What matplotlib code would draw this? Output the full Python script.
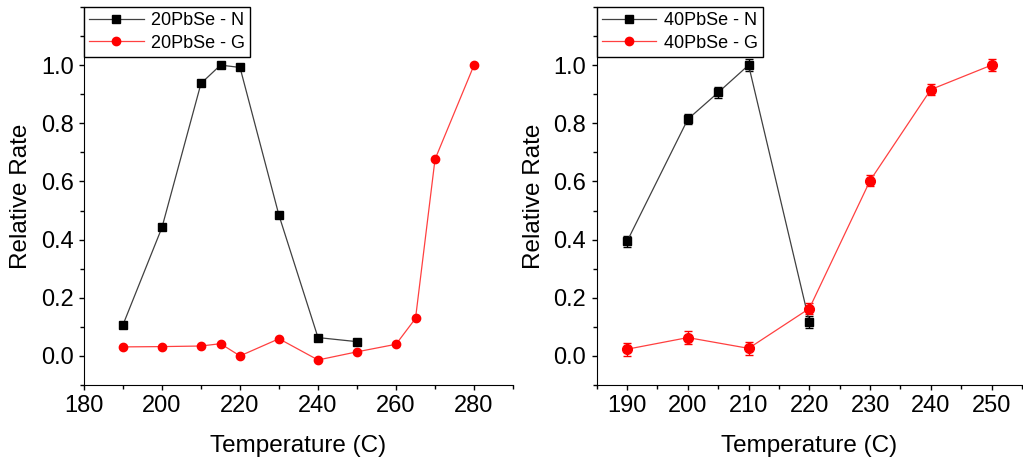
import numpy as np
import matplotlib.pyplot as plt
from matplotlib.ticker import MultipleLocator
from matplotlib.lines import Line2D

plt.rcParams['font.family'] = ['Liberation Sans', 'DejaVu Sans']

#====================1======================
#               data
#===========================================
# 20PbSe
t20_N = [190, 200, 210, 215, 220, 230, 240, 250]
r20_N = [0.107, 0.442, 0.937, 1.0, 0.992, 0.483, 0.063, 0.049]
t20_G = [190, 200, 210, 215, 220, 230, 240, 250, 260, 265, 270, 280]
r20_G = [0.031, 0.032, 0.034, 0.042, 0.0, 0.059, -0.014, 0.014, 0.040, 0.129, 0.676, 1.0]

# 40PbSe
t40_N = [190, 200, 205, 210, 220]
r40_N = [0.394, 0.814, 0.906, 1.0, 0.117]
e40_N = [0.02, 0.018, 0.018, 0.02, 0.02]
t40_G = [190, 200, 210, 220, 230, 240, 250]
r40_G = [0.023, 0.063, 0.026, 0.163, 0.603, 0.916, 1.0]
e40_G = [0.022, 0.022, 0.022, 0.02, 0.02, 0.02, 0.02]

#====================2======================
#               plots
#===========================================
fig = plt.figure(figsize=(10.23, 4.63), dpi=100)
ax1 = fig.add_axes([0.0821, 0.1685, 0.4194, 0.8165])
ax2 = fig.add_axes([0.5833, 0.1685, 0.4157, 0.8165])

c_blk = '#000000'
c_red = '#ff0000'
l_blk = '#404040'
l_red = '#ff4040'

ax1.plot(t20_N, r20_N, color=l_blk, lw=0.9, marker='s', ms=5.5,
         mfc=c_blk, mec=c_blk)
ax1.plot(t20_G, r20_G, color=l_red, lw=0.9, marker='o', ms=6,
         mfc=c_red, mec=c_red)

ax2.errorbar(t40_N, r40_N, yerr=e40_N, color=l_blk, lw=0.9, marker='s',
             ms=6, mfc=c_blk, mec=c_blk, ecolor=c_blk, elinewidth=1,
             capsize=3)
ax2.errorbar(t40_G, r40_G, yerr=e40_G, color=l_red, lw=0.9, marker='o',
             ms=7, mfc=c_red, mec=c_red, ecolor=c_red, elinewidth=1,
             capsize=3)

ax1.set_xlim(180, 290)
ax2.set_xlim(185, 255)
ax1.xaxis.set_major_locator(MultipleLocator(20))
ax1.xaxis.set_minor_locator(MultipleLocator(10))
ax2.xaxis.set_major_locator(MultipleLocator(10))
ax2.xaxis.set_minor_locator(MultipleLocator(5))

for ax, tag in ((ax1, '20PbSe'), (ax2, '40PbSe')):
    ax.set_ylim(-0.1, 1.2)
    ax.yaxis.set_minor_locator(MultipleLocator(0.1))
    ax.set_yticks([0.0, 0.2, 0.4, 0.6, 0.8, 1.0])
    ax.spines['top'].set_visible(False)
    ax.spines['right'].set_visible(False)
    ax.tick_params(which='major', direction='out', length=3.5, width=1,
                   labelsize=17, pad=4)
    ax.tick_params(which='minor', direction='out', length=3, width=1)
    ax.set_xlabel('Temperature (C)', fontsize=17.5, labelpad=13)
    ax.set_ylabel('Relative Rate', fontsize=17.5, labelpad=6)
    handles = [Line2D([], [], color=l_blk, lw=0.9, marker='s', ms=5.5,
                      mfc=c_blk, mec=c_blk),
               Line2D([], [], color=l_red, lw=0.9, marker='o', ms=6,
                      mfc=c_red, mec=c_red)]
    leg = ax.legend(handles, [f'{tag} - N', f'{tag} - G'],
                    loc='upper left', bbox_to_anchor=(0, 1.0),
                    borderaxespad=0, fontsize=13, fancybox=False,
                    edgecolor='black', framealpha=1, handlelength=3,
                    borderpad=0.3, labelspacing=0.3, handletextpad=0.4)
    leg.get_frame().set_linewidth(1.0)

fig.savefig('out.png', dpi=100)
